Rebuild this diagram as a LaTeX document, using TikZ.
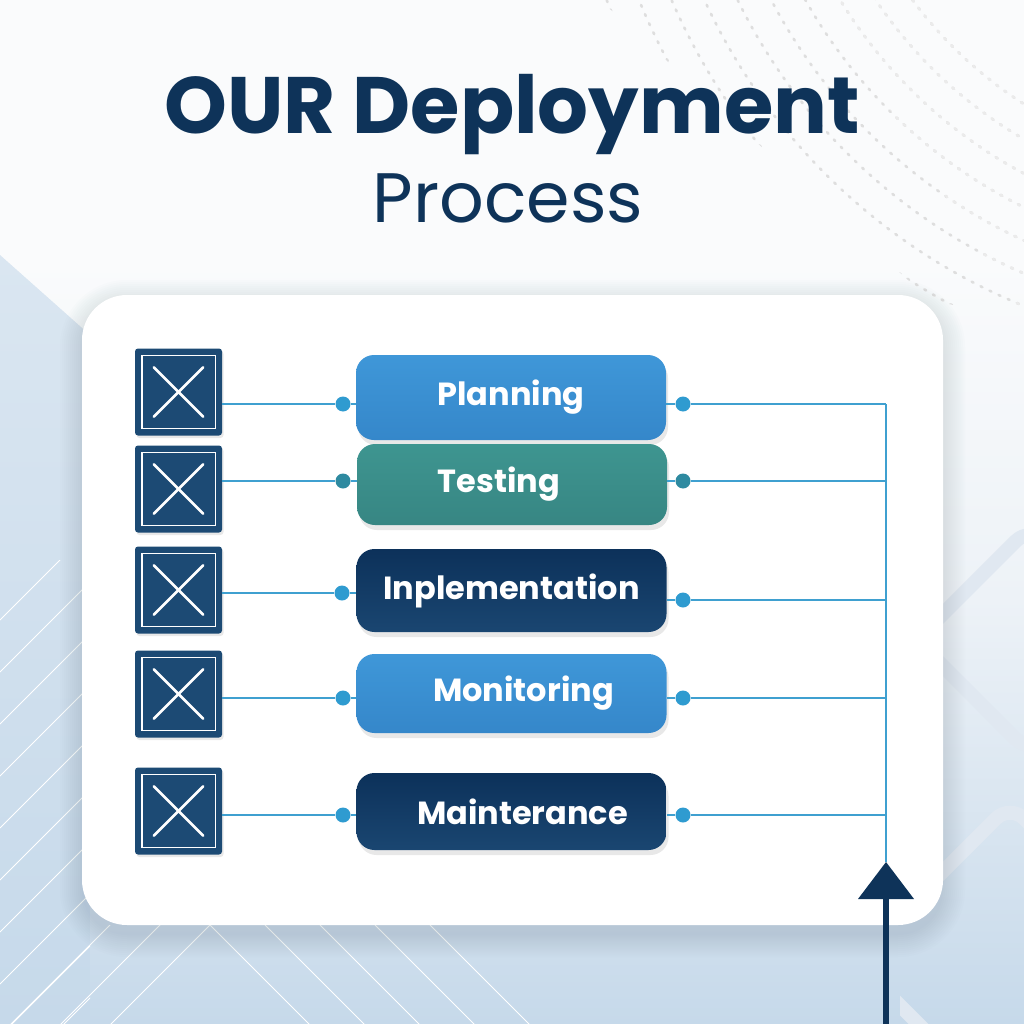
\documentclass[tikz,border=0pt]{standalone}
\usepackage{fontspec}
\setmainfont{Poppins}
\usetikzlibrary{shadows,calc}
\definecolor{navy}{HTML}{0E3359}
\definecolor{navyA}{HTML}{0C315A}
\definecolor{navyB}{HTML}{1A4671}
\definecolor{blueA}{HTML}{3F97D8}
\definecolor{blueB}{HTML}{3587CA}
\definecolor{tealA}{HTML}{3E9590}
\definecolor{tealB}{HTML}{378683}
\definecolor{iconc}{HTML}{1C4A74}
\definecolor{linec}{HTML}{3FA0D0}
\definecolor{dotc}{HTML}{2F9BD0}
\definecolor{dotteal}{HTML}{2E8AA0}
\definecolor{bgtop}{HTML}{FAFBFC}
\definecolor{bgmid}{HTML}{EDF2F7}
\definecolor{bgbot}{HTML}{C6D9EA}
\definecolor{pale}{HTML}{DAE6F1}
\definecolor{diam}{HTML}{E0E8F1}
\definecolor{shad}{HTML}{6E8299}
\tikzset{
  iconbox/.style={draw=none, fill=iconc, minimum width=87pt, minimum height=87pt, rounded corners=3pt,
    drop shadow={opacity=0.18, shadow xshift=1.5pt, shadow yshift=-2.5pt}},
  stepbox/.style={minimum width=310pt, rounded corners=18pt, text=white,
    font=\fontsize{32}{36}\selectfont\bfseries,
    drop shadow={opacity=0.18, shadow xshift=2pt, shadow yshift=-5pt}},
  bluebox/.style={stepbox, top color=blueA, bottom color=blueB},
  tealbox/.style={stepbox, top color=tealA, bottom color=tealB},
  navybox/.style={stepbox, top color=navyA, bottom color=navyB},
  dot/.style={circle, fill=#1, minimum size=15pt, inner sep=0pt},
  conn/.style={draw=linec, line width=2.5pt},
}
\newcommand{\xicon}[2]{%
  \node[iconbox] (#1) at (#2) {};
  \draw[white, line width=1.4pt] ($(#1.south west)+(7,-7)$) rectangle ($(#1.north east)+(-7,7)$);
  \draw[white, line width=2.6pt, line cap=round] ($(#1.south west)+(19,-19)$) -- ($(#1.north east)+(-19,19)$);
  \draw[white, line width=2.6pt, line cap=round] ($(#1.north west)+(19,19)$) -- ($(#1.south east)+(-19,-19)$);
}
\begin{document}
\begin{tikzpicture}[x=1pt,y=-1pt]
\useasboundingbox (0,0) rectangle (1024,1024);
% background
\fill[bgtop] (0,0) rectangle (1024,260);
\shade[top color=bgtop, bottom color=bgmid] (0,259) rectangle (1024,600);
\shade[top color=bgmid, bottom color=bgbot] (0,599) rectangle (1024,1024);
\shade[top color=pale, bottom color=bgbot] (0,255) -- (90,335) -- (90,1024) -- (0,1024) -- cycle;
% dotted arcs top right
\begin{scope}
  \clip (600,0) -- (1024,0) -- (1024,320) -- (930,300) -- cycle;
  \foreach \r in {420,450,...,840}
    \draw[black!13, line width=2.6pt, dash pattern=on 2pt off 8pt, line cap=round] (1250,-250) circle (\r);
\end{scope}
\begin{scope}
  \clip (820,0) -- (1024,0) -- (1024,320) -- cycle;
  \foreach \r in {420,450,...,840}
    \draw[black!8, line width=2.6pt, dash pattern=on 2pt off 8pt, line cap=round] (1250,-250) circle (\r);
\end{scope}
% diagonal light lines
\begin{scope}
  \clip (0,560) rectangle (90,1024);
  \foreach \y in {620,672,...,1150}
    \draw[white, line width=1pt] (0,\y) -- (200,\y-200);
\end{scope}
\begin{scope}
  \clip (0,925) rectangle (1024,1024);
  \foreach \x in {210,265,320,375,430}
    \draw[white, line width=1pt] (\x,925) -- (\x+110,1035);
  \foreach \x in {0,50,100}
    \draw[white, line width=1pt] (\x,1035) -- (\x+130,905);
\end{scope}
% right diamonds
\begin{scope}
  \clip (900,400) rectangle (1024,1024);
  \draw[diam, line width=14pt, rounded corners=20pt, rotate around={45:(1030,640)}] (950,560) rectangle (1110,720);
  \draw[diam, line width=14pt, rounded corners=20pt, rotate around={45:(1010,960)}] (900,850) rectangle (1120,1070);
\end{scope}
% card shadow
\foreach \i [evaluate=\i as \rr using 45+\i] in {0,2,...,22}
  \fill[shad, opacity=0.014, rounded corners=\rr pt] (82-\i,302-\i) rectangle (943+\i,935+\i);
% card
\fill[white, rounded corners=45pt] (82,295) rectangle (943,925);
% title
\node[text=navy, font=\fontsize{80}{90}\selectfont\bfseries] (t1) at (512,115) {OUR Deployment};
\node[text=navy, font=\fontsize{70}{80}\selectfont] (t2) at (508,198) {Process};
% icons
\xicon{i1}{178.5,392}
\xicon{i2}{178.5,489}
\xicon{i3}{178.5,590}
\xicon{i4}{178.5,694}
\xicon{i5}{178.5,811}
% boxes
\node[bluebox, minimum height=85pt] (b1) at (511,397.5) {Planning};
\node[tealbox, minimum height=81pt] (b2) at (512,484.5) {Testing\hspace*{26pt}};
\node[navybox, minimum height=83pt] (b3) at (511.5,590.5) {Inplementation};
\node[bluebox, minimum height=79pt] (b4) at (511.5,693.5) {\hspace*{24pt}Monitoring};
\node[navybox, minimum height=77pt] (b5) at (511.5,811.5) {\hspace*{22pt}Mainterance};
% bus and arrow
\coordinate (tip) at (886,862);
\coordinate (tail) at (886,1024);
% left dots
\node[dot=dotc] (l1) at (343,404) {};
\node[dot=dotteal] (l2) at (343,481) {};
\node[dot=dotc] (l3) at (342,593) {};
\node[dot=dotc] (l4) at (343,698) {};
\node[dot=dotc] (l5) at (343,815) {};
% right dots
\node[dot=dotc] (r1) at (683,404) {};
\node[dot=dotteal] (r2) at (683,481) {};
\node[dot=dotc] (r3) at (683,600) {};
\node[dot=dotc] (r4) at (683,698) {};
\node[dot=dotc] (r5) at (683,815) {};
% connectors
\foreach \k in {1,...,5} {
  \draw[conn] (i\k.east |- l\k) -- (l\k);
  \draw[conn, line width=2pt] (l\k) -- (l\k -| b\k.west);
  \draw[conn, line width=2pt] (r\k) -- (r\k -| b\k.east);
  \draw[conn] (r\k) -- (r\k -| tip);
}
\draw[conn] (r1 -| tip) -- (tip);
% arrow
\draw[navy, line width=6pt] (tail) -- ($(tip)+(0,30)$);
\fill[navy] (tip) -- ++(28,37) -- ++(-56,0) -- cycle;
\end{tikzpicture}
\end{document}
